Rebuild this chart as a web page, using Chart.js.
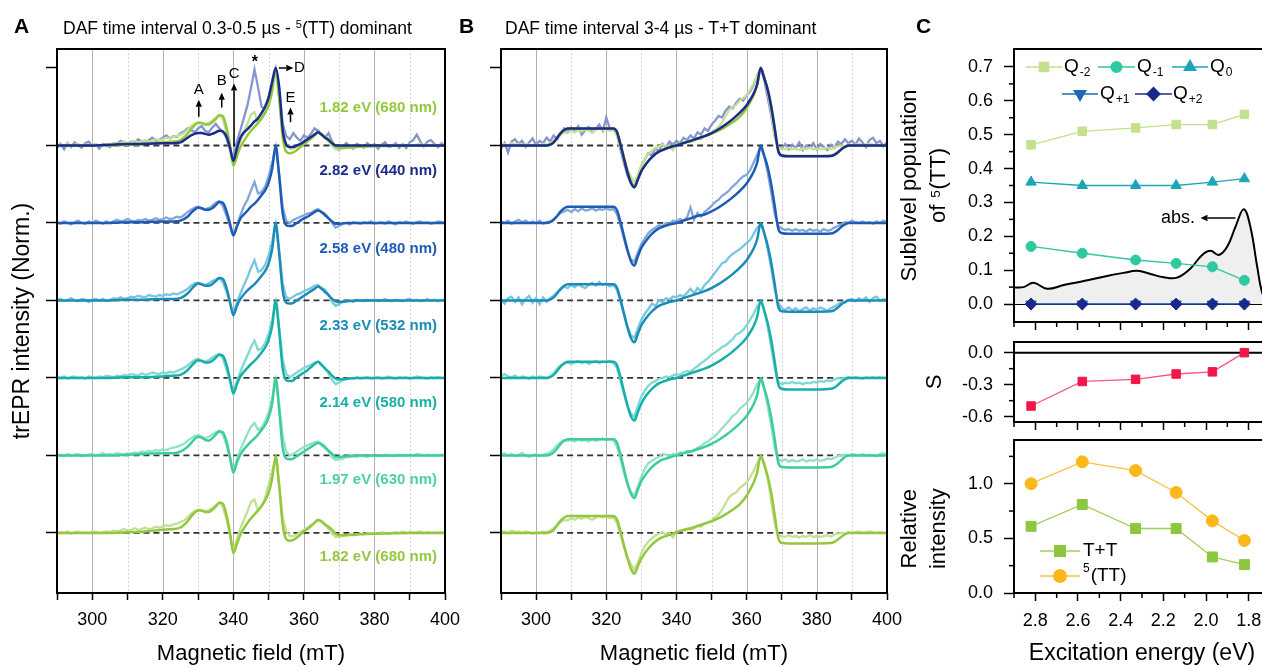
<!DOCTYPE html>
<html><head><meta charset="utf-8">
<script src="https://cdn.jsdelivr.net/npm/chart.js"></script>
<style>
html,body{margin:0;padding:0;background:#fff;overflow:hidden;}
#fig{position:relative;width:1262px;height:667px;overflow:hidden;font-family:'Liberation Sans',Arial,sans-serif;background:#fff;}
canvas{position:absolute;}
.t{position:absolute;white-space:nowrap;color:#000;z-index:5;line-height:1;}
.panel{font-weight:bold;font-size:21px;}
.hdr{font-size:17.5px;}
.hdr sup{font-size:11px;vertical-align:6px;line-height:0;}
.lab{font-weight:bold;font-size:15px;text-align:right;width:220px;left:217px;}
</style></head><body>
<div id="fig">
<canvas id="cA" width="480" height="667" style="left:0;top:0"></canvas>
<canvas id="cB" width="480" height="667" style="left:440px;top:0"></canvas>
<canvas id="cC1" width="400" height="345" style="left:890px;top:0"></canvas>
<canvas id="cC2" width="400" height="100" style="left:890px;top:330px"></canvas>
<canvas id="cC3" width="400" height="237" style="left:890px;top:430px"></canvas>
<div class="t panel" style="left:14px;top:15px">A</div>
<div class="t panel" style="left:459px;top:15px">B</div>
<div class="t panel" style="left:916px;top:15px">C</div>
<div class="t hdr" style="left:63px;top:20px">DAF time interval 0.3-0.5 µs - <sup>5</sup>(TT) dominant</div>
<div class="t hdr" style="left:505px;top:20px">DAF time interval 3-4 µs - T+T dominant</div>
<div class="t lab" style="top:99px;color:#93c83e">1.82 eV (680 nm)</div>
<div class="t lab" style="top:162px;color:#1b2b8c">2.82 eV (440 nm)</div>
<div class="t lab" style="top:240px;color:#1e5bb5">2.58 eV (480 nm)</div>
<div class="t lab" style="top:317px;color:#1a8cb7">2.33 eV (532 nm)</div>
<div class="t lab" style="top:394px;color:#16b0a8">2.14 eV (580 nm)</div>
<div class="t lab" style="top:471px;color:#4fd0a4">1.97 eV (630 nm)</div>
<div class="t lab" style="top:548px;color:#93c83e">1.82 eV (680 nm)</div>
</div>
<script>
// ---------------- DATA ----------------
const fieldTicks = [290,300,310,320,330,340,350,360,370,380,390,400];
const fieldLabels = [300,320,340,360,380,400];
const gridSolid = [300,320,340,360,380];
const gridDotted = [310,330,350,370,390];
const rowTicks = [0,1,2,3,4,5,6];
const baselineRange = [306,388];

const expField = Array.from({length:111},(_,i)=>290+i);

// Panel A experimental traces (1 mT steps, 290-400 mT)
const expA_282 = [-0.03,0.02,-0.05,0.03,-0.02,0.04,0.00,-0.03,0.03,0.05,
 -0.01,0.02,-0.04,0.02,0.00,-0.02,0.03,0.02,0.06,0.04,
 0.01,0.05,0.03,0.08,0.05,0.03,0.07,0.10,0.06,0.07,
 0.10,0.13,0.09,0.12,0.11,0.16,0.18,0.22,0.20,0.17,
 0.22,0.25,0.19,0.17,0.23,0.28,0.22,0.18,0.10,-0.05,
 -0.18,0.05,0.20,0.36,0.52,0.74,0.98,0.75,0.50,0.47,
 0.62,0.82,0.99,0.70,0.28,0.12,0.08,0.16,0.10,0.06,
 0.13,0.10,0.15,0.22,0.19,0.14,0.10,0.16,0.05,-0.01,
 -0.06,-0.02,0.03,-0.01,-0.04,0.02,0.00,-0.03,0.03,-0.01,
 0.02,-0.04,0.01,0.04,-0.02,-0.01,0.03,-0.03,0.02,-0.03,
 0.04,0.07,0.14,0.05,-0.01,0.05,0.07,0.02,-0.02,0.03,
 -0.01];
const expA_258 = [0.01,-0.01,0.02,0.00,-0.02,0.01,0.03,0.00,-0.01,0.02,
 0.00,0.03,0.01,-0.01,0.02,0.00,0.02,0.04,0.02,0.03,
 0.05,0.03,0.02,0.04,0.03,0.05,0.03,0.04,0.06,0.04,
 0.05,0.07,0.05,0.06,0.08,0.07,0.10,0.14,0.17,0.20,
 0.21,0.19,0.18,0.19,0.22,0.26,0.28,0.22,0.10,-0.04,
 -0.16,-0.03,0.10,0.22,0.30,0.42,0.53,0.38,0.40,0.47,
 0.60,0.78,0.97,0.62,0.20,0.03,0.00,0.04,0.06,0.08,
 0.10,0.12,0.13,0.16,0.18,0.14,0.12,0.06,0.00,-0.06,
 -0.04,-0.01,0.00,-0.02,0.01,0.00,-0.01,0.01,0.00,0.02,
 -0.01,0.00,0.01,-0.01,0.02,0.00,-0.02,0.01,0.00,0.02,
 0.00,-0.01,0.01,0.02,0.00,0.01,-0.01,0.00,0.02,0.01,
 0.00];
const expA_233 = [0.00,0.02,-0.01,0.01,0.03,0.00,-0.01,0.02,0.01,-0.02,
 0.01,0.02,0.00,0.02,-0.01,0.01,0.03,0.02,0.04,0.02,
 0.03,0.05,0.04,0.06,0.05,0.04,0.07,0.06,0.05,0.07,
 0.06,0.08,0.07,0.09,0.08,0.10,0.12,0.15,0.19,0.22,
 0.23,0.21,0.20,0.22,0.25,0.27,0.29,0.24,0.12,-0.03,
 -0.18,-0.02,0.09,0.20,0.30,0.42,0.52,0.37,0.39,0.46,
 0.58,0.76,0.98,0.64,0.22,0.04,0.02,0.05,0.08,0.09,
 0.12,0.14,0.16,0.19,0.20,0.16,0.14,0.07,-0.02,-0.07,
 -0.05,-0.02,-0.01,0.00,-0.02,0.01,0.00,-0.01,0.01,0.00,
 0.01,-0.01,0.00,0.02,0.00,-0.01,0.01,0.00,-0.01,0.01,
 0.02,0.00,0.01,-0.01,0.00,0.02,0.00,0.01,-0.01,0.01,
 0.00];
const expA_214 = [0.01,0.00,0.02,-0.01,0.01,0.02,0.00,0.01,-0.01,0.02,
 0.01,0.00,0.02,0.01,0.03,0.02,0.01,0.03,0.02,0.04,
 0.03,0.05,0.04,0.03,0.06,0.04,0.05,0.07,0.06,0.05,
 0.07,0.06,0.08,0.07,0.09,0.11,0.13,0.16,0.20,0.23,
 0.25,0.22,0.21,0.23,0.26,0.29,0.31,0.25,0.12,-0.04,
 -0.20,-0.04,0.08,0.19,0.29,0.40,0.48,0.36,0.38,0.45,
 0.57,0.75,0.97,0.65,0.23,0.05,0.01,0.04,0.07,0.10,
 0.13,0.15,0.17,0.20,0.21,0.17,0.13,0.06,-0.03,-0.08,
 -0.06,-0.03,-0.02,0.00,-0.01,0.01,-0.01,0.00,0.01,-0.01,
 0.00,0.01,-0.01,0.00,0.02,0.00,-0.01,0.01,0.00,0.01,
 -0.01,0.00,0.02,0.01,0.00,-0.01,0.01,0.00,0.01,0.00,
 0.00];
const expA_197 = [0.00,0.01,-0.01,0.02,0.00,0.01,0.02,-0.01,0.00,0.01,
 0.02,0.00,0.01,0.03,0.01,0.02,0.01,0.03,0.02,0.01,
 0.03,0.02,0.04,0.03,0.05,0.04,0.06,0.05,0.07,0.06,
 0.08,0.07,0.09,0.10,0.11,0.13,0.15,0.19,0.22,0.25,
 0.26,0.24,0.22,0.24,0.27,0.30,0.32,0.27,0.14,-0.03,
 -0.21,-0.05,0.08,0.18,0.28,0.37,0.42,0.33,0.36,0.44,
 0.56,0.74,0.97,0.66,0.24,0.05,0.00,0.02,0.05,0.08,
 0.11,0.13,0.15,0.17,0.18,0.15,0.12,0.05,-0.03,-0.06,
 -0.05,-0.04,-0.02,-0.02,-0.01,-0.02,0.00,-0.01,-0.02,0.00,
 -0.01,0.00,-0.01,0.01,0.00,-0.01,0.00,0.01,0.00,0.00,
 0.01,0.00,0.02,0.01,0.00,0.01,0.00,0.01,0.00,0.01,
 0.00];
const expA_182 = [0.00,0.01,0.00,0.02,-0.01,0.01,0.02,0.00,0.01,0.00,
 0.01,0.02,0.00,0.01,0.02,0.01,0.03,0.02,0.03,0.05,
 0.03,0.04,0.06,0.04,0.05,0.07,0.05,0.06,0.08,0.07,
 0.08,0.10,0.09,0.11,0.12,0.14,0.16,0.20,0.25,0.28,
 0.30,0.29,0.28,0.29,0.32,0.36,0.39,0.34,0.18,-0.02,
 -0.24,-0.08,0.06,0.17,0.28,0.40,0.43,0.29,0.34,0.45,
 0.62,0.80,0.96,0.62,0.20,0.02,-0.04,-0.04,-0.02,0.01,
 0.04,0.07,0.10,0.13,0.16,0.14,0.10,0.05,-0.01,-0.05,
 -0.05,-0.04,-0.03,-0.02,-0.03,-0.02,-0.01,-0.02,0.00,-0.01,
 0.00,-0.01,0.01,0.00,-0.01,0.00,0.01,0.00,0.02,0.00,
 0.01,0.00,0.01,0.02,0.00,0.01,0.00,0.01,0.00,0.01,
 0.00];

// Panel A simulations
const simFieldA = [290,300,305,310,315,320,323,325,327,328,329,330,331,332,333,334,335,336,337,338,339,340,341,342,343,344,345,346,347,348,349,350,351,352,353,354,355,356,357,358,359,360,361,362,363,364,365,366,367,368,369,370,372,375,380,390,400];
const simA_282 = [0,0,0.01,0.02,0.02,0.03,0.03,0.04,0.10,0.13,
 0.15,0.16,0.16,0.15,0.14,0.15,0.17,0.19,0.18,0.12,
 -0.02,-0.20,-0.04,0.10,0.17,0.21,0.26,0.31,0.35,0.42,
 0.50,0.62,0.82,1.00,0.75,0.20,0.01,-0.02,-0.02,0.00,
 0.02,0.05,0.08,0.11,0.14,0.17,0.14,0.10,0.07,0.03,
 0.00,0,0,0,0,0,0];
const simA_258 = [0,0,0,0.01,0.01,0.02,0.02,0.03,0.08,0.13,
 0.17,0.20,0.19,0.17,0.17,0.19,0.23,0.27,0.26,0.16,
 0.00,-0.16,-0.05,0.06,0.11,0.16,0.21,0.25,0.30,0.36,
 0.42,0.52,0.70,1.00,0.60,0.12,-0.03,-0.04,-0.03,0.00,
 0.03,0.06,0.08,0.11,0.14,0.16,0.14,0.10,0.06,0.02,
 -0.01,-0.01,0,0,0,0,0];
const simA_233 = [0,0,0,0.01,0.01,0.02,0.02,0.03,0.09,0.14,
 0.19,0.22,0.21,0.19,0.19,0.21,0.25,0.29,0.28,0.17,
 -0.01,-0.19,-0.07,0.02,0.08,0.13,0.17,0.21,0.26,0.32,
 0.38,0.48,0.66,1.00,0.60,0.12,-0.03,-0.04,-0.03,0.00,
 0.03,0.06,0.09,0.12,0.15,0.18,0.15,0.11,0.07,0.02,
 -0.01,-0.02,-0.01,0,0,0,0];
const simA_214 = [0,0,0,0.01,0.01,0.02,0.03,0.04,0.10,0.15,
 0.20,0.23,0.22,0.20,0.20,0.22,0.26,0.30,0.29,0.18,
 -0.01,-0.20,-0.08,0.02,0.08,0.13,0.18,0.22,0.27,0.33,
 0.39,0.49,0.67,1.00,0.60,0.12,-0.03,-0.04,-0.03,0.01,
 0.04,0.07,0.10,0.14,0.18,0.21,0.17,0.12,0.08,0.03,
 -0.01,-0.02,-0.01,0,0,0,0];
const simA_197 = [0,0,0,0.01,0.02,0.03,0.03,0.05,0.11,0.16,
 0.21,0.24,0.23,0.20,0.19,0.22,0.27,0.31,0.30,0.19,
 -0.01,-0.22,-0.09,0.01,0.08,0.13,0.18,0.22,0.27,0.33,
 0.39,0.49,0.67,1.00,0.58,0.10,-0.04,-0.05,-0.04,-0.01,
 0.02,0.05,0.08,0.11,0.14,0.16,0.14,0.10,0.06,0.02,
 -0.02,-0.02,-0.01,0,0,0,0];
const simA_182 = [0,0,0,0.01,0.02,0.04,0.05,0.07,0.15,0.21,
 0.26,0.29,0.29,0.27,0.27,0.30,0.34,0.39,0.38,0.24,
 0.02,-0.26,-0.14,-0.02,0.06,0.13,0.19,0.24,0.29,0.35,
 0.42,0.52,0.70,0.99,0.60,0.10,-0.08,-0.10,-0.09,-0.06,
 -0.02,0.02,0.05,0.09,0.13,0.17,0.15,0.11,0.08,0.04,
 -0.01,-0.03,-0.03,-0.02,-0.01,0,0];

// Panel B experimental traces
const expB_282 = [-0.04,0.03,-0.09,0.05,0.08,0.02,0.06,-0.02,0.04,0.09,
 0.01,0.06,0.03,0.10,0.05,0.13,0.08,0.15,0.22,0.17,
 0.23,0.18,0.25,0.14,0.20,0.24,0.17,0.21,0.27,0.19,
 0.36,0.22,0.20,0.15,-0.05,-0.22,-0.38,-0.48,-0.53,-0.40,
 -0.26,-0.18,-0.10,-0.13,-0.04,-0.07,0.02,-0.03,0.05,0.01,
 0.06,0.03,0.10,0.07,0.13,0.09,0.17,0.14,0.22,0.19,
 0.27,0.32,0.38,0.36,0.45,0.50,0.48,0.55,0.60,0.58,
 0.65,0.70,0.78,0.90,0.99,0.85,0.62,0.38,0.12,-0.02,
 -0.04,0.02,-0.05,0.01,-0.03,0.04,-0.06,0.00,-0.03,0.03,
 -0.05,0.02,-0.02,-0.06,0.01,-0.03,0.05,0.02,0.08,0.03,
 0.06,0.01,0.09,0.04,-0.02,0.07,0.10,0.03,0.06,-0.01,
 0.04];
const expB_258 = [0.02,0.00,0.03,-0.01,0.02,0.04,0.01,0.03,0.00,0.02,
 0.00,0.03,-0.01,0.01,0.02,0.05,0.09,0.13,0.15,0.17,
 0.14,0.18,0.15,0.19,0.16,0.17,0.19,0.16,0.18,0.17,
 0.19,0.17,0.18,0.12,-0.02,-0.20,-0.36,-0.47,-0.50,-0.38,
 -0.27,-0.20,-0.13,-0.09,-0.06,-0.03,-0.04,0.00,-0.01,0.03,
 0.02,0.05,0.03,0.07,0.20,0.04,0.13,0.08,0.14,0.18,
 0.22,0.27,0.30,0.35,0.38,0.42,0.47,0.51,0.56,0.60,
 0.62,0.68,0.78,0.88,0.98,0.86,0.65,0.40,0.12,-0.04,
 -0.07,-0.09,-0.08,-0.10,-0.08,-0.10,-0.09,-0.11,-0.08,-0.10,
 -0.09,-0.11,-0.08,-0.10,-0.09,-0.06,-0.04,-0.02,0.01,0.00,
 0.03,0.01,0.00,0.02,0.00,0.01,-0.01,0.02,0.00,0.03,
 0.01];
const expB_233 = [0.01,-0.04,0.03,0.05,-0.02,0.04,-0.05,0.02,0.06,-0.03,
 0.03,-0.05,0.04,-0.02,0.03,0.06,0.11,0.14,0.18,0.16,
 0.20,0.17,0.21,0.18,0.16,0.20,0.23,0.19,0.24,0.20,
 0.22,0.18,0.20,0.14,-0.01,-0.18,-0.33,-0.45,-0.48,-0.36,
 -0.25,-0.17,-0.11,-0.04,-0.07,0.00,-0.02,0.03,0.01,0.05,
 0.04,0.07,0.05,0.10,0.15,0.09,0.16,0.12,0.20,0.24,
 0.30,0.36,0.42,0.48,0.50,0.56,0.60,0.63,0.66,0.70,
 0.74,0.78,0.86,0.94,0.98,0.88,0.66,0.42,0.14,-0.03,
 -0.10,-0.12,-0.09,-0.13,-0.10,-0.14,-0.11,-0.09,-0.13,-0.10,
 -0.12,-0.09,-0.11,-0.13,-0.10,-0.08,-0.05,-0.02,-0.03,0.01,
 0.02,-0.01,0.03,0.00,0.04,-0.02,0.03,0.05,0.00,0.02,
 0.00];
const expB_214 = [0.03,0.05,0.02,0.01,0.03,0.00,0.02,0.01,-0.01,0.02,
 0.00,0.02,0.01,0.00,0.02,0.06,0.12,0.16,0.18,0.20,
 0.18,0.20,0.22,0.19,0.21,0.18,0.20,0.22,0.19,0.21,
 0.20,0.22,0.19,0.13,-0.03,-0.20,-0.35,-0.46,-0.50,-0.36,
 -0.24,-0.16,-0.10,-0.06,-0.04,-0.01,0.00,0.02,0.01,0.03,
 0.05,0.04,0.07,0.09,0.08,0.12,0.15,0.19,0.22,0.26,
 0.30,0.33,0.36,0.40,0.42,0.46,0.50,0.56,0.58,0.62,
 0.68,0.75,0.83,0.92,0.99,0.88,0.66,0.40,0.12,-0.05,
 -0.08,-0.06,-0.07,-0.05,-0.07,-0.06,-0.08,-0.06,-0.07,-0.05,
 -0.06,-0.04,-0.05,-0.03,-0.04,-0.02,0.00,-0.01,0.00,0.01,
 0.00,0.01,0.00,-0.01,0.01,0.00,0.01,0.00,0.01,0.00,
 0.00];
const expB_197 = [0.01,0.03,0.00,0.02,-0.01,0.01,0.03,0.00,-0.02,0.00,
 0.02,0.00,0.01,0.02,0.04,0.08,0.13,0.17,0.20,0.19,
 0.20,0.18,0.21,0.19,0.20,0.18,0.21,0.19,0.20,0.22,
 0.19,0.21,0.20,0.12,-0.04,-0.22,-0.37,-0.47,-0.52,-0.40,
 -0.27,-0.17,-0.10,-0.07,-0.04,-0.02,0.02,0.01,-0.01,0.02,
 0.01,0.04,0.03,0.06,0.05,0.07,0.10,0.12,0.16,0.18,
 0.22,0.25,0.30,0.35,0.40,0.45,0.51,0.54,0.60,0.64,
 0.68,0.74,0.82,0.92,0.98,0.86,0.64,0.38,0.10,-0.05,
 -0.07,-0.05,-0.08,-0.06,-0.08,-0.07,-0.05,-0.08,-0.06,-0.07,
 -0.05,-0.07,-0.06,-0.04,-0.05,-0.03,-0.01,0.00,0.01,0.00,
 0.02,0.01,0.00,0.02,0.00,0.01,0.00,-0.01,0.02,0.03,
 0.01];
const expB_182 = [0.01,0.02,0.00,0.03,0.01,0.02,0.00,0.02,0.01,-0.01,
 0.01,0.00,0.02,0.01,0.03,0.06,0.10,0.14,0.17,0.16,
 0.19,0.17,0.20,0.18,0.21,0.19,0.17,0.20,0.22,0.20,
 0.21,0.19,0.20,0.13,-0.02,-0.18,-0.31,-0.40,-0.48,-0.38,
 -0.26,-0.17,-0.11,-0.07,-0.03,-0.01,0.01,-0.02,0.00,-0.06,
 0.01,0.03,0.02,0.05,0.04,0.06,0.09,0.08,0.12,0.14,
 0.16,0.20,0.24,0.30,0.38,0.46,0.50,0.52,0.58,0.61,
 0.65,0.72,0.80,0.90,0.98,0.90,0.70,0.42,0.12,-0.03,
 -0.04,-0.05,-0.03,-0.05,-0.04,-0.06,-0.04,-0.05,-0.03,-0.05,
 -0.04,-0.05,-0.04,-0.03,-0.05,-0.02,-0.01,0.00,-0.01,0.01,
 0.00,0.01,0.02,0.00,0.01,0.02,0.01,0.00,0.01,0.00,
 0.00];

// Panel B simulations
const simFieldB = [290,300,303,304,305,306,307,308,309,310,315,320,322,323,324,325,326,327,328,329,330,331,332,333,334,335,336,337,338,339,340,342,344,346,348,350,352,354,356,358,360,361,362,363,364,365,366,367,368,369,370,372,375,380,384,385,386,387,388,389,390,400];
const simB_282 = [0,0,0,0.01,0.04,0.10,0.16,0.20,0.22,0.22,
 0.22,0.22,0.22,0.18,0.02,-0.16,-0.34,-0.48,-0.54,-0.44,
 -0.33,-0.26,-0.20,-0.15,-0.11,-0.08,-0.06,-0.04,-0.025,-0.01,
 0.00,0.03,0.06,0.09,0.12,0.16,0.21,0.27,0.34,0.42,
 0.52,0.59,0.67,0.79,1.00,0.87,0.72,0.50,0.22,-0.07,
 -0.13,-0.14,-0.14,-0.14,-0.135,-0.12,-0.09,-0.05,-0.02,0,
 0,0];
const simB_258 = [0,0,0,0.01,0.04,0.09,0.15,0.19,0.21,0.21,
 0.21,0.21,0.21,0.17,0.02,-0.16,-0.34,-0.49,-0.55,-0.43,
 -0.32,-0.25,-0.19,-0.14,-0.10,-0.07,-0.05,-0.035,-0.02,-0.01,
 0.00,0.03,0.06,0.09,0.11,0.15,0.20,0.26,0.33,0.41,
 0.51,0.58,0.66,0.78,1.00,0.87,0.72,0.50,0.22,-0.07,
 -0.13,-0.14,-0.14,-0.14,-0.135,-0.12,-0.09,-0.05,-0.02,0,
 0,0];
const simB_233 = [0,0,0,0.01,0.04,0.09,0.15,0.19,0.21,0.21,
 0.21,0.21,0.21,0.17,0.02,-0.16,-0.34,-0.48,-0.54,-0.43,
 -0.32,-0.25,-0.19,-0.14,-0.10,-0.07,-0.05,-0.035,-0.02,-0.01,
 0.00,0.03,0.06,0.09,0.12,0.16,0.21,0.27,0.34,0.42,
 0.52,0.59,0.67,0.79,1.00,0.87,0.71,0.49,0.21,-0.08,
 -0.14,-0.145,-0.145,-0.145,-0.14,-0.125,-0.09,-0.05,-0.02,0,
 0,0];
const simB_214 = [0,0,0,0.01,0.04,0.09,0.15,0.19,0.21,0.21,
 0.21,0.21,0.21,0.17,0.02,-0.17,-0.35,-0.49,-0.55,-0.44,
 -0.33,-0.25,-0.19,-0.14,-0.10,-0.07,-0.05,-0.035,-0.02,-0.01,
 0.00,0.03,0.06,0.09,0.12,0.16,0.21,0.27,0.34,0.42,
 0.52,0.59,0.67,0.79,1.00,0.87,0.71,0.49,0.21,-0.08,
 -0.14,-0.15,-0.15,-0.15,-0.14,-0.125,-0.09,-0.05,-0.02,0,
 0,0];
const simB_197 = [0,0,0,0.01,0.04,0.09,0.15,0.19,0.21,0.21,
 0.21,0.21,0.21,0.17,0.02,-0.17,-0.35,-0.49,-0.55,-0.44,
 -0.33,-0.26,-0.20,-0.15,-0.11,-0.08,-0.055,-0.04,-0.025,-0.01,
 0.00,0.03,0.05,0.08,0.11,0.15,0.20,0.26,0.33,0.41,
 0.51,0.58,0.66,0.78,1.00,0.87,0.71,0.49,0.21,-0.09,
 -0.15,-0.155,-0.155,-0.155,-0.15,-0.13,-0.10,-0.06,-0.02,0,
 0,0];
const simB_182 = [0,0,0,0.01,0.04,0.10,0.16,0.20,0.22,0.22,
 0.22,0.22,0.22,0.18,0.03,-0.15,-0.32,-0.46,-0.53,-0.43,
 -0.33,-0.26,-0.20,-0.15,-0.11,-0.08,-0.055,-0.04,-0.025,-0.01,
 0.01,0.04,0.06,0.09,0.12,0.15,0.19,0.24,0.30,0.37,
 0.48,0.56,0.65,0.78,1.00,0.88,0.73,0.52,0.23,-0.06,
 -0.13,-0.135,-0.135,-0.135,-0.13,-0.115,-0.085,-0.05,-0.02,0,
 0,0];

// Panel C
const energies = [2.82, 2.58, 2.33, 2.14, 1.97, 1.82];
const energyTicks = [2.8, 2.6, 2.4, 2.2, 2.0, 1.8];
const energyMinor = [2.9, 2.7, 2.5, 2.3, 2.1, 1.9, 1.7];
const popTicks = [0, 0.1, 0.2, 0.3, 0.4, 0.5, 0.6, 0.7];
const popMinor = [0.05, 0.15, 0.25, 0.35, 0.45, 0.55, 0.65];
const sTicks = [0, -0.3, -0.6];
const sMinor = [-0.15, -0.45];
const relTicks = [0, 0.5, 1.0];
const relMinor = [0.25, 0.75, 1.25];
const qMinus2 = [0.47, 0.51, 0.52, 0.53, 0.53, 0.56];
const qMinus1 = [0.17, 0.15, 0.13, 0.12, 0.11, 0.07];
const q0 = [0.36, 0.35, 0.35, 0.35, 0.36, 0.37];
const qPlus1 = [0, 0, 0, 0, 0, 0];
const qPlus2 = [0, 0, 0, 0, 0, 0];
const sParam = [-0.50, -0.27, -0.25, -0.20, -0.18, 0.00];
const ttIntensity = [0.61, 0.81, 0.59, 0.59, 0.33, 0.26];
const tt5Intensity = [1.00, 1.20, 1.12, 0.92, 0.66, 0.48];
const absEnergy = [2.90, 2.855, 2.808, 2.745, 2.667, 2.573, 2.464, 2.386, 2.323, 2.261, 2.198, 2.136, 2.073, 2.018, 1.979, 1.940, 1.901, 1.862, 1.823, 1.792, 1.760, 1.736, 1.70];
const absValue = [0.049, 0.050, 0.063, 0.045, 0.056, 0.068, 0.083, 0.092, 0.098, 0.089, 0.079, 0.078, 0.105, 0.145, 0.157, 0.145, 0.169, 0.228, 0.280, 0.228, 0.110, 0.032, -0.02];

// ---------------- RENDER ----------------
const FONT = "'Liberation Sans', Arial, sans-serif";
Chart.defaults.font.family = FONT;
Chart.defaults.color = '#000';

function seg(ctx, x1, y1, x2, y2, color, w, dash) {
  ctx.save(); ctx.strokeStyle = color; ctx.lineWidth = w; ctx.setLineDash(dash || []);
  ctx.beginPath(); ctx.moveTo(x1, y1); ctx.lineTo(x2, y2); ctx.stroke(); ctx.restore();
}
function drawArrow(ctx, x1, y1, x2, y2) {
  const h = 7, ang = Math.atan2(y2 - y1, x2 - x1);
  const bx = x2 - Math.cos(ang) * h, by = y2 - Math.sin(ang) * h;
  seg(ctx, x1, y1, bx, by, '#000', 1.5);
  ctx.save(); ctx.fillStyle = '#000'; ctx.beginPath();
  ctx.moveTo(x2, y2);
  ctx.lineTo(bx + Math.sin(ang) * h * 0.45, by - Math.cos(ang) * h * 0.45);
  ctx.lineTo(bx - Math.sin(ang) * h * 0.45, by + Math.cos(ang) * h * 0.45);
  ctx.closePath(); ctx.fill(); ctx.restore();
}
const decor = {
  id: 'decor',
  beforeDatasetsDraw(chart, _a, o) {
    const {ctx, chartArea: a} = chart; const xs = chart.scales.x, ys = chart.scales.y;
    ctx.save();
    ctx.beginPath(); ctx.rect(a.left, a.top, a.right - a.left, a.bottom - a.top); ctx.clip();
    for (const v of (o.gridSolid || [])) { const p = Math.round(xs.getPixelForValue(v)) + 0.5; seg(ctx, p, a.top, p, a.bottom, '#b0b0b0', 1); }
    for (const v of (o.gridDotted || [])) { const p = Math.round(xs.getPixelForValue(v)) + 0.5; seg(ctx, p, a.top, p, a.bottom, '#d4d4d4', 1, [2, 2]); }
    for (const v of (o.zeroLines || [])) { const p = ys.getPixelForValue(v); seg(ctx, a.left, p, a.right, p, '#000', 2); }
    ctx.restore();
  },
  afterDraw(chart, _a, o) {
    const {ctx, chartArea: a} = chart; const xs = chart.scales.x, ys = chart.scales.y;
    ctx.save();
    ctx.lineWidth = 2; ctx.strokeStyle = '#000'; ctx.setLineDash([]);
    ctx.strokeRect(a.left, a.top, a.right - a.left, a.bottom - a.top);
    const ml = o.minorLen || 5;
    for (const v of (o.minorX || [])) { const p = xs.getPixelForValue(v); seg(ctx, p, a.bottom, p, a.bottom + ml, '#000', 1.5); }
    for (const v of (o.minorY || [])) { const p = ys.getPixelForValue(v); seg(ctx, a.left - ml, p, a.left, p, '#000', 1.5); }
    for (const ar of (o.arrows || [])) drawArrow(ctx, xs.getPixelForValue(ar.x1), ys.getPixelForValue(ar.y1), xs.getPixelForValue(ar.x2), ys.getPixelForValue(ar.y2));
    for (const n of (o.notes || [])) {
      ctx.font = n.font; ctx.fillStyle = '#000'; ctx.textAlign = 'center'; ctx.textBaseline = 'middle';
      ctx.fillText(n.text, xs.getPixelForValue(n.x), ys.getPixelForValue(n.y));
    }
    for (const it of (o.legend || [])) {
      const y = a.top + it.dy, x0 = a.left + it.x0, x1 = a.left + it.x1;
      seg(ctx, x0, y, x1, y, it.line || it.color, 1.3);
      ctx.fillStyle = it.color; ctx.strokeStyle = it.color;
      Chart.helpers.drawPoint(ctx, {pointStyle: it.style, radius: it.r, rotation: it.rot || 0, borderWidth: 1}, (x0 + x1) / 2, y);
      ctx.fillStyle = '#000'; ctx.textAlign = 'left'; ctx.textBaseline = 'middle';
      let x = a.left + it.tx;
      if (it.sup) { ctx.font = '12px ' + FONT; ctx.fillText(it.sup, x, y - 7); x += ctx.measureText(it.sup).width + 1; }
      ctx.font = '19px ' + FONT; ctx.fillText(it.text, x, y); x += ctx.measureText(it.text).width + 1;
      if (it.sub) { ctx.font = '12px ' + FONT; ctx.fillText(it.sub, x, y + 6); }
    }
    ctx.restore();
  }
};

function trace(xs, ys, off, color, width, order, smooth) {
  return {data: xs.map((x, i) => ({x, y: ys[i] + off})), borderColor: color, borderWidth: width,
    pointRadius: 0, order, fill: false, tension: 0, cubicInterpolationMode: smooth ? 'monotone' : 'default'};
}
function dashed(off) {
  return {data: [{x: baselineRange[0], y: off}, {x: baselineRange[1], y: off}], borderColor: '#333333',
    borderWidth: 1.8, borderDash: [6, 4], pointRadius: 0, order: 40, fill: false};
}

function spectrumChart(id, datasets, yWidth, padRight, yTitle, notes, arrows) {
  return new Chart(document.getElementById(id), {
    type: 'line',
    data: {datasets},
    options: {
      responsive: false, animation: false, events: [],
      layout: {padding: {top: 49, right: padRight, left: 0, bottom: 0}},
      plugins: {legend: {display: false}, tooltip: {enabled: false},
        decor: {gridSolid, gridDotted, notes, arrows}},
      scales: {
        x: {type: 'linear', min: 290, max: 400,
          afterBuildTicks: s => { s.ticks = fieldTicks.map(v => ({value: v})); },
          afterFit: s => { s.height = 74; s.paddingLeft = 0; s.paddingRight = 0; },
          ticks: {autoSkip: false, maxRotation: 0, font: {size: 18}, padding: 9,
            callback: v => fieldLabels.includes(v) ? String(v) : ''},
          grid: {drawOnChartArea: false, drawTicks: true, tickLength: 7, tickWidth: 1.5, tickColor: '#000'},
          border: {display: false},
          title: {display: true, text: 'Magnetic field (mT)', font: {size: 22}, padding: {top: 0, bottom: 0}}},
        y: {type: 'linear', min: -0.775, max: 6.245,
          afterBuildTicks: s => { s.ticks = rowTicks.map(v => ({value: v})); },
          afterFit: s => { s.width = yWidth; s.paddingTop = 0; s.paddingBottom = 0; },
          ticks: {display: false},
          grid: {drawOnChartArea: false, drawTicks: true, tickLength: 11, tickWidth: 1.5, tickColor: '#000'},
          border: {display: false},
          title: yTitle ? {display: true, text: yTitle, font: {size: 23}, padding: {top: 9}} : {display: false}}
      }
    },
    plugins: [decor]
  });
}

// Panel A
const rowsA = [
  {exp: expA_282, sim: simA_282, off: 5, ce: '#8794d0', cs: '#1b2b8c'},
  {exp: expA_258, sim: simA_258, off: 4, ce: '#82a6dc', cs: '#1e5bb5'},
  {exp: expA_233, sim: simA_233, off: 3, ce: '#78c5e0', cs: '#1a8cb7'},
  {exp: expA_214, sim: simA_214, off: 2, ce: '#7fd8d1', cs: '#16b0a8'},
  {exp: expA_197, sim: simA_197, off: 1, ce: '#94e2c4', cs: '#3dcc9c'},
  {exp: expA_182, sim: simA_182, off: 0, ce: '#c4e093', cs: '#93c83e'}
];
const dsA = [];
rowsA.forEach((r, i) => {
  dsA.push(trace(expField, r.exp, r.off, r.ce, 2.3, i === 0 ? 22 : 12, false));
  dsA.push(trace(simFieldA, r.sim, r.off, r.cs, 2.5, i === 0 ? 4 : 6, true));
  dsA.push(dashed(r.off));
});
dsA.push(trace(expField, expA_182, 5, '#c4e093', 2.3, 18, false));
dsA.push(trace(simFieldA, simA_182, 5, '#93c83e', 2.5, 8, true));
const notesA = [
  {text: 'A', x: 330.2, y: 5.72, font: '15px ' + FONT},
  {text: 'B', x: 336.7, y: 5.83, font: '15px ' + FONT},
  {text: 'C', x: 340.2, y: 5.93, font: '15px ' + FONT},
  {text: '*', x: 346.1, y: 6.07, font: 'bold 16px ' + FONT},
  {text: 'D', x: 358.7, y: 6.0, font: '15px ' + FONT},
  {text: 'E', x: 356.2, y: 5.62, font: '15px ' + FONT}
];
const arrowsA = [
  {x1: 330.2, y1: 5.37, x2: 330.2, y2: 5.59},
  {x1: 336.7, y1: 5.49, x2: 336.7, y2: 5.68},
  {x1: 340.2, y1: 4.99, x2: 340.2, y2: 5.80},
  {x1: 352.9, y1: 6.0, x2: 357.0, y2: 6.0},
  {x1: 356.2, y1: 5.30, x2: 356.2, y2: 5.49}
];
spectrumChart('cA', dsA, 57, 35, 'trEPR intensity (Norm.)', notesA, arrowsA);

// Panel B
const rowsB = [
  {exp: expB_282, sim: simB_282, off: 5, ce: '#8794d0', cs: '#1b2b8c'},
  {exp: expB_258, sim: simB_258, off: 4, ce: '#82a6dc', cs: '#1e5bb5'},
  {exp: expB_233, sim: simB_233, off: 3, ce: '#78c5e0', cs: '#1a8cb7'},
  {exp: expB_214, sim: simB_214, off: 2, ce: '#7fd8d1', cs: '#16b0a8'},
  {exp: expB_197, sim: simB_197, off: 1, ce: '#94e2c4', cs: '#3dcc9c'},
  {exp: expB_182, sim: simB_182, off: 0, ce: '#c4e093', cs: '#93c83e'}
];
const dsB = [];
rowsB.forEach((r, i) => {
  dsB.push(trace(expField, r.exp, r.off, r.ce, 2.3, i === 0 ? 22 : 12, false));
  dsB.push(trace(simFieldB, r.sim, r.off, r.cs, 2.5, i === 0 ? 4 : 6, true));
  dsB.push(dashed(r.off));
});
dsB.push(trace(expField, expB_182, 5, '#c4e093', 2.3, 18, false));
dsB.push(trace(simFieldB, simB_182, 5, '#93c83e', 2.5, 8, true));
spectrumChart('cB', dsB, 61, 33, null, [], []);

// Panel C
function pts(ys) { return energies.map((e, i) => ({x: e, y: ys[i]})); }
function series(ys, color, style, r, order, extra) {
  return Object.assign({data: pts(ys), borderColor: color, backgroundColor: color, borderWidth: 1.3,
    pointStyle: style, pointRadius: r, pointBackgroundColor: color, pointBorderColor: color,
    pointBorderWidth: 1, order, fill: false, tension: 0}, extra || {});
}
function energyChart(id, datasets, o) {
  return new Chart(document.getElementById(id), {
    type: 'line',
    data: {datasets},
    options: {
      responsive: false, animation: false, events: [],
      layout: {padding: {top: o.padTop, right: 20, left: 0, bottom: 0}},
      plugins: {legend: {display: false}, tooltip: {enabled: false},
        decor: {minorX: energyMinor, minorY: o.minorY, zeroLines: o.zeroLines, legend: o.legend,
          notes: o.notes, arrows: o.arrows, minorLen: 5}},
      scales: {
        x: {type: 'linear', min: 1.7, max: 2.9, reverse: true,
          afterBuildTicks: s => { s.ticks = energyTicks.map(v => ({value: v})); },
          afterFit: s => { s.height = o.xHeight; s.paddingLeft = 0; s.paddingRight = 0; },
          ticks: {display: o.xLabels, autoSkip: false, maxRotation: 0, font: {size: 18}, padding: 9,
            callback: v => Number(v).toFixed(1)},
          grid: {drawOnChartArea: false, drawTicks: true, tickLength: 8, tickWidth: 1.5, tickColor: '#000'},
          border: {display: false},
          title: o.xLabels ? {display: true, text: 'Excitation energy (eV)', font: {size: 23}, padding: {top: 0, bottom: 0}} : {display: false}},
        y: {type: 'linear', min: o.yMin, max: o.yMax,
          afterBuildTicks: s => { s.ticks = o.yTicks.map(v => ({value: v})); },
          afterFit: s => { s.width = 124; s.paddingTop = 0; s.paddingBottom = 0; },
          ticks: {font: {size: 18}, padding: 11, callback: v => Number(v).toFixed(1)},
          grid: {drawOnChartArea: false, drawTicks: true, tickLength: 10, tickWidth: 1.5, tickColor: '#000'},
          border: {display: false},
          title: {display: true, text: o.yTitle, font: {size: 22, lineHeight: 1.3}, padding: {top: o.titlePad}}}
      }
    },
    plugins: [decor]
  });
}

const absDs = {data: absEnergy.map((e, i) => ({x: e, y: absValue[i]})), borderColor: '#000', borderWidth: 2,
  backgroundColor: '#efefef', fill: 'origin', tension: 0.4, pointRadius: 0, order: 50};
energyChart('cC1', [
  absDs,
  series(qMinus2, '#c2e08e', 'rect', 6, 10),
  series(qMinus1, '#2ec9a0', 'circle', 5, 9),
  series(q0, '#1ca6b7', 'triangle', 6, 8),
  series(qPlus1, '#1f6ab5', 'triangle', 6, 7, {pointRotation: 180}),
  series(qPlus2, '#1b2a8a', 'rectRot', 6, 6)
], {padTop: 49, xHeight: 23, xLabels: false, yMin: -0.053, yMax: 0.753, yTicks: popTicks, minorY: popMinor,
  yTitle: ['Sublevel population', 'of \u2075(TT)'], titlePad: 6, zeroLines: [0],
  legend: [
    {x0: 12, x1: 48, dy: 18, tx: 50, color: '#c2e08e', style: 'rect', r: 6, text: 'Q', sub: '-2'},
    {x0: 84, x1: 121, dy: 18, tx: 123, color: '#2ec9a0', style: 'circle', r: 5, text: 'Q', sub: '-1'},
    {x0: 158, x1: 194, dy: 18, tx: 196, color: '#1ca6b7', style: 'triangle', r: 6, text: 'Q', sub: '0'},
    {x0: 48, x1: 84, dy: 45, tx: 86, color: '#1f6ab5', style: 'triangle', r: 6, rot: 180, text: 'Q', sub: '+1'},
    {x0: 121, x1: 158, dy: 45, tx: 159, color: '#1b2a8a', style: 'rectRot', r: 6, text: 'Q', sub: '+2'}
  ],
  notes: [{text: 'abs.', x: 2.131, y: 0.254, font: '18px ' + FONT}],
  arrows: [{x1: 1.862, y1: 0.254, x2: 2.026, y2: 0.254}]
});

energyChart('cC2', [
  series(sParam, '#f2164c', 'rect', 6, 1, {borderColor: '#f4587c'})
], {padTop: 12, xHeight: 8, xLabels: false, yMin: -0.65, yMax: 0.1, yTicks: sTicks, minorY: sMinor,
  yTitle: 'S', titlePad: 31, zeroLines: [0]});

energyChart('cC3', [
  series(ttIntensity, '#8dc63f', 'rect', 7, 2, {borderColor: '#9fd05a'}),
  series(tt5Intensity, '#fbb81a', 'circle', 6, 1, {borderColor: '#fbc23e'})
], {padTop: 10, xHeight: 74, xLabels: true, yMin: 0, yMax: 1.4, yTicks: relTicks, minorY: relMinor,
  yTitle: ['Relative    ', 'intensity    '], titlePad: 6,
  legend: [
    {x0: 26, x1: 66, dy: 111, tx: 69, color: '#8dc63f', line: '#9fd05a', style: 'rect', r: 7, text: 'T+T'},
    {x0: 26, x1: 66, dy: 136, tx: 69, color: '#fbb81a', line: '#fbc23e', style: 'circle', r: 6, text: '(TT)', sup: '5'}
  ]});
</script>
</body></html>
